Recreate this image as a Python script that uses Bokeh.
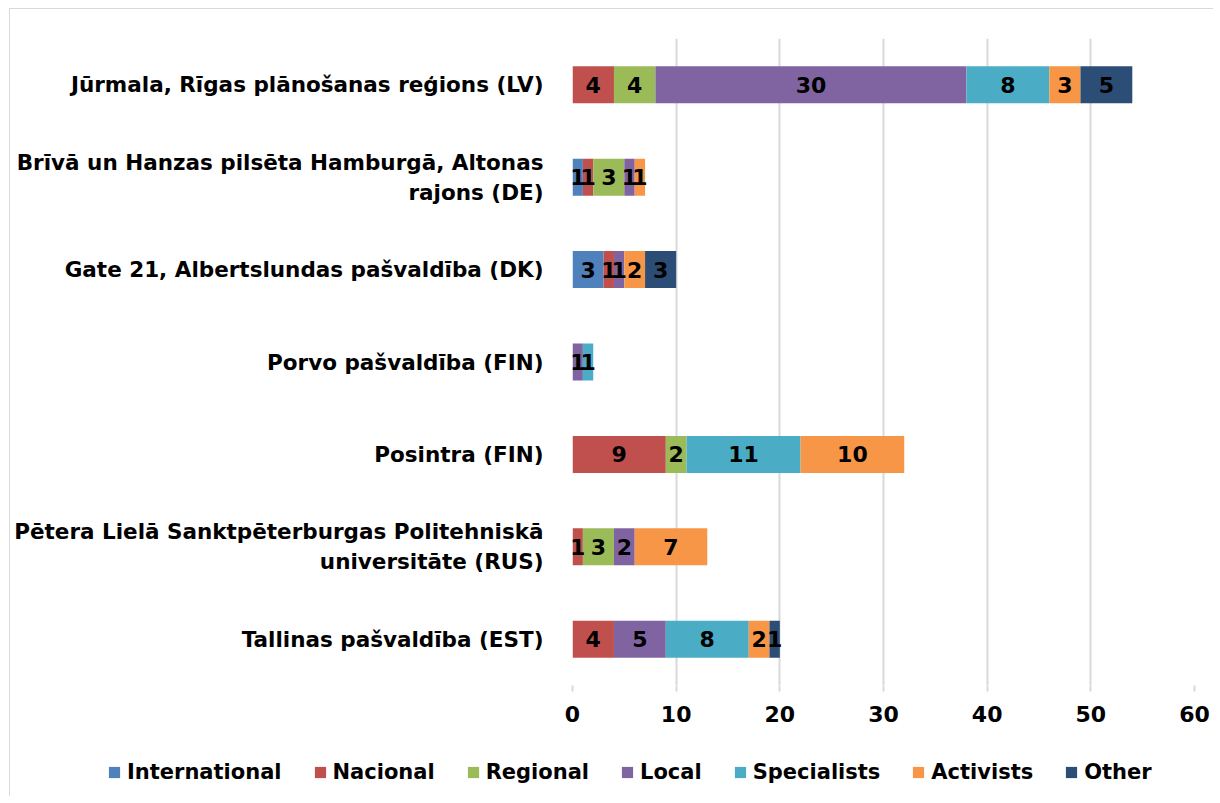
from bokeh.plotting import figure
from bokeh.layouts import column, row
from bokeh.models import ColumnDataSource, FactorRange, Range1d, Legend, LegendItem, FixedTicker
from bokeh.core.properties import value
from bokeh.embed import file_html
from bokeh.resources import INLINE

FONT = "DejaVu Sans"

categories = [
    "Jūrmala, Rīgas plānošanas reģions (LV)",
    "Brīvā un Hanzas pilsēta Hamburgā, Altonas\nrajons (DE)",
    "Gate 21, Albertslundas pašvaldība (DK)",
    "Porvo pašvaldība (FIN)",
    "Posintra (FIN)",
    "Pētera Lielā Sanktpēterburgas Politehniskā\nuniversitāte (RUS)",
    "Tallinas pašvaldība (EST)",
]
series = ["International", "Nacional", "Regional", "Local", "Specialists", "Activists", "Other"]
colors = ["#4F81BD", "#C0504D", "#9BBB59", "#8064A2", "#4BACC6", "#F79646", "#2C4D75"]

international = [0, 1, 3, 0, 0, 0, 0]
nacional = [4, 1, 1, 0, 9, 1, 4]
regional = [4, 3, 0, 0, 2, 3, 0]
local = [30, 1, 1, 1, 0, 2, 5]
specialists = [8, 0, 0, 1, 11, 0, 8]
activists = [3, 1, 2, 0, 10, 7, 2]
other = [5, 0, 3, 0, 0, 0, 1]

x_ticks = [0, 10, 20, 30, 40, 50, 60]

values = [international, nacional, regional, local, specialists, activists, other]
data = {"cat": categories}
for name, vals in zip(series, values):
    data[name] = vals
src = ColumnDataSource(data)

p = figure(
    width=1203, height=727,
    y_range=FactorRange(factors=list(reversed(categories)), range_padding=0),
    x_range=Range1d(0, 60),
    output_backend="svg", toolbar_location=None,
    min_border_left=562, min_border_right=19, min_border_top=29, min_border_bottom=51,
)

renderers = p.hbar_stack(series, y="cat", height=0.4, color=colors, source=src, line_color=None)

# value labels
lx, ly, lt = [], [], []
left = [0] * len(categories)
for vals in values:
    for i, v in enumerate(vals):
        if v:
            lx.append(left[i] + v / 2)
            ly.append(categories[i])
            lt.append(str(v))
        left[i] += v
p.text(x=lx, y=ly, text=lt, text_align="center", text_baseline="middle",
       text_font=value(FONT), text_font_style="bold", text_font_size="22px", text_color="black")

p.outline_line_color = None
p.ygrid.visible = False
p.xgrid.grid_line_color = "#d9d9d9"
p.xgrid.grid_line_width = 2

p.xaxis.ticker = FixedTicker(ticks=x_ticks)
p.xaxis.axis_line_color = None
p.xaxis.major_tick_line_color = "#d9d9d9"
p.xaxis.major_tick_line_width = 2
p.xaxis.major_tick_out = 6
p.xaxis.major_tick_in = 0
p.xaxis.minor_tick_line_color = None
p.xaxis.major_label_standoff = 14
p.xaxis.major_label_text_font = FONT
p.xaxis.major_label_text_font_style = "bold"
p.xaxis.major_label_text_font_size = "22px"
p.xaxis.major_label_text_color = "black"

p.yaxis.axis_line_color = None
p.yaxis.major_tick_line_color = None
p.yaxis.minor_tick_line_color = None
p.yaxis.major_label_standoff = 23
p.yaxis.major_label_text_font = FONT
p.yaxis.major_label_text_font_style = "bold"
p.yaxis.major_label_text_font_size = "21.5px"
p.yaxis.major_label_text_color = "black"

# legend strip below the chart (its swatches come from off-range bars)
pl = figure(
    width=1203, height=60, x_range=Range1d(0, 1), y_range=Range1d(0, 1),
    output_backend="svg", toolbar_location=None,
    min_border_left=0, min_border_right=0, min_border_top=0, min_border_bottom=0,
)
pl.axis.visible = False
pl.grid.visible = False
pl.outline_line_color = None
legend_renderers = [pl.hbar(y=[5], left=[4], right=[5], height=0.5, color=c, line_color=None)
                    for c in colors]
legend = Legend(
    items=[LegendItem(label=s, renderers=[r]) for s, r in zip(series, legend_renderers)],
    orientation="horizontal", location=(97, 12),
    glyph_width=14, glyph_height=14, label_standoff=6, spacing=31,
    padding=0, margin=0, border_line_color=None, background_fill_alpha=0,
    label_text_font=FONT, label_text_font_style="bold", label_text_font_size="21px",
    label_text_color="black",
)
pl.add_layout(legend, "center")

layout = column(p, row(pl), spacing=0,
                styles={"border-left": "1px solid #d9d9d9", "border-top": "1px solid #d9d9d9",
                        "margin-left": "9px", "margin-top": "8px"})

open("out.html", "w").write(file_html(layout, INLINE))
